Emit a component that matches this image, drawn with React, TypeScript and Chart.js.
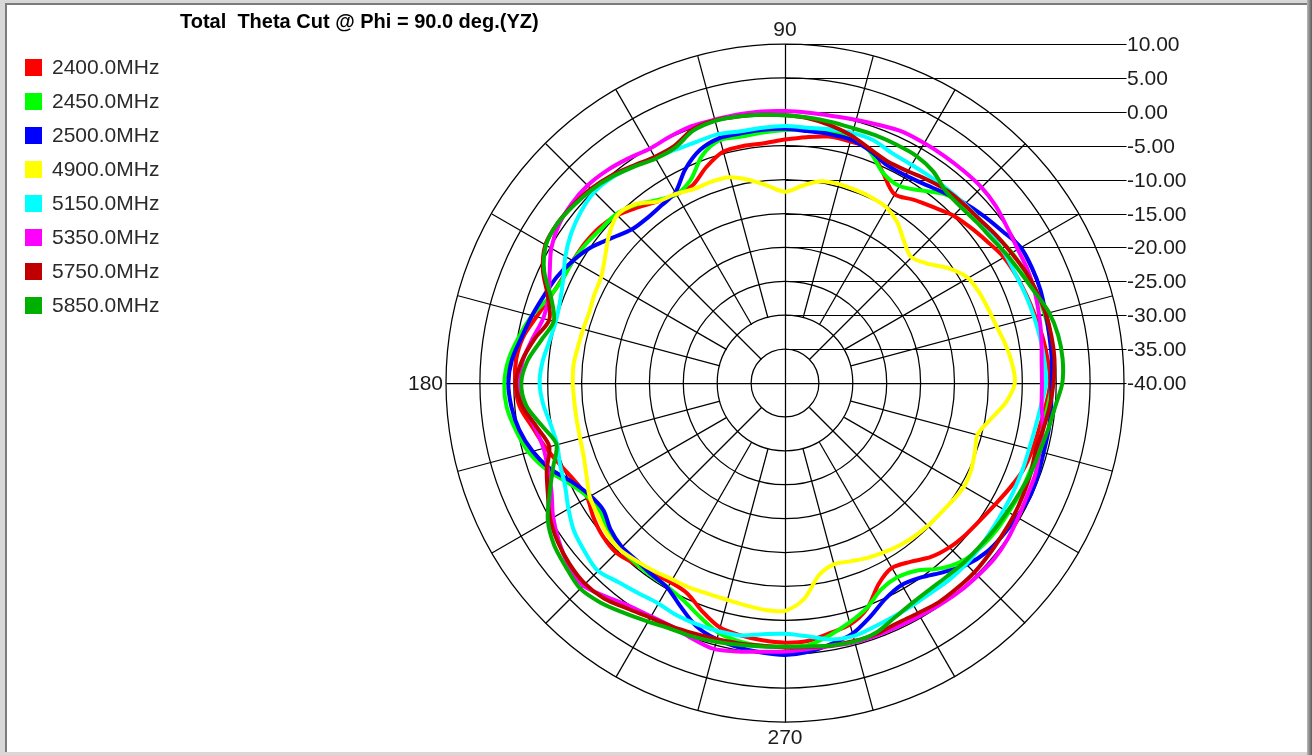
import React, { useEffect, useRef } from "react";
import { Chart, registerables } from "chart.js";

Chart.register(...registerables);

// Polar angle of each sample, degrees counter-clockwise from the +x direction
const THETA_DEG = [
  0, 5, 10, 15, 20, 25, 30, 35, 40, 45, 50, 55, 60, 65, 70, 75, 80, 85,
  90, 95, 100, 105, 110, 115, 120, 125, 130, 135, 140, 145, 150, 155, 160, 165, 170, 175,
  180, 185, 190, 195, 200, 205, 210, 215, 220, 225, 230, 235, 240, 245, 250, 255, 260, 265,
  270, 275, 280, 285, 290, 295, 300, 305, 310, 315, 320, 325, 330, 335, 340, 345, 350, 355,
];

const SERIES_NAMES = [
  "2400.0MHz", "2450.0MHz", "2500.0MHz", "4900.0MHz",
  "5150.0MHz", "5350.0MHz", "5750.0MHz", "5850.0MHz",
];

const SERIES_COLORS = [
  "#ff0000", "#00ff00", "#0000ff", "#ffff00",
  "#00ffff", "#ff00ff", "#c00000", "#00b000",
];

// Total gain (dB) for each frequency, one value per THETA_DEG entry
const GAIN_2400 = [
  -0.9, -1.1, -1.4, -1.8, -2.1, -2.4, -2.8, -3.6, -4.3, -5.0, -6.1, -7.0, -7.8, -5.8, -3.3, -3.1, -3.1, -3.6,
  -4.1, -4.5, -4.5, -4.7, -6.1, -7.8, -7.9, -7.3, -6.2, -5.0, -4.3, -4.0, -3.9, -3.7, -3.1, -2.1, -0.8, -0.2,
  -0.2, -0.7, -2.2, -3.4, -4.7, -5.8, -6.3, -5.5, -4.9, -4.7, -5.3, -5.8, -6.1, -5.8, -4.2, -2.7, -2.2, -1.9,
  -1.7, -1.8, -2.5, -3.1, -4.6, -7.3, -8.5, -7.8, -6.5, -5.7, -5.2, -4.8, -4.2, -3.4, -2.6, -2.2, -1.9, -1.4,
];

const GAIN_2450 = [
  -0.5, -0.2, -0.3, -0.4, -0.6, -1.0, -1.4, -2.1, -2.5, -2.8, -3.6, -5.3, -6.4, -5.8, -3.6, -2.5, -2.4, -2.5,
  -2.7, -2.9, -3.1, -2.9, -4.3, -7.0, -7.9, -7.1, -5.7, -4.8, -4.6, -4.2, -3.9, -3.8, -3.0, -1.4, -0.2, 0.9,
  1.4, 1.2, 0.3, -0.8, -2.6, -4.9, -6.4, -6.8, -5.9, -5.5, -5.5, -5.4, -5.3, -4.6, -3.3, -1.9, -1.3, -1.1,
  -1.1, -1.2, -2.2, -3.4, -4.7, -6.4, -6.9, -6.2, -4.3, -2.9, -2.3, -2.0, -1.9, -1.7, -1.6, -1.4, -1.4, -1.1,
];

const GAIN_2500 = [
  -0.7, -0.5, -0.4, -0.2, 0.1, 0.2, 0.1, -0.9, -1.7, -2.5, -3.4, -4.2, -4.6, -4.5, -3.5, -2.8, -2.7, -2.7,
  -2.5, -2.5, -2.6, -2.6, -3.4, -5.2, -7.6, -8.1, -8.3, -8.0, -6.7, -5.1, -3.9, -2.9, -2.2, -1.4, -0.6, 0.4,
  0.8, 0.5, -0.2, -1.4, -3.1, -5.4, -6.8, -7.3, -6.4, -5.9, -5.9, -5.6, -5.2, -3.6, -1.8, -0.9, -0.4, -0.1,
  0.1, -0.2, -0.9, -1.7, -3.3, -4.9, -5.6, -5.0, -3.6, -2.1, -1.2, -0.8, -0.5, -0.2, -0.3, -0.5, -0.5, -0.6,
];

const GAIN_4900 = [
  -6.1, -6.4, -7.0, -7.7, -8.1, -8.4, -8.9, -10.5, -12.6, -13.7, -12.7, -11.1, -10.1, -9.8, -9.7, -9.6, -9.8, -10.8,
  -11.8, -10.8, -9.6, -8.6, -8.4, -8.4, -7.8, -7.3, -5.6, -5.0, -6.1, -7.6, -8.7, -9.0, -9.3, -9.2, -9.0, -8.7,
  -8.7, -8.8, -8.8, -8.7, -8.4, -7.7, -6.7, -6.2, -5.6, -5.4, -5.8, -6.2, -6.6, -6.7, -6.9, -6.9, -6.7, -6.4,
  -6.4, -8.0, -11.2, -12.3, -12.0, -11.5, -11.1, -10.7, -10.4, -10.2, -10.1, -9.8, -9.5, -9.7, -10.2, -10.6, -9.2, -7.3,
];

const GAIN_5150 = [
  -1.5, -1.6, -1.8, -2.0, -2.2, -2.4, -2.4, -2.5, -2.5, -2.6, -2.7, -2.8, -2.8, -2.6, -1.9, -1.8, -2.0, -2.2,
  -2.1, -2.2, -2.3, -2.0, -2.1, -2.0, -1.6, -1.0, -0.4, -0.2, -0.7, -1.5, -2.6, -3.9, -4.7, -5.0, -4.7, -4.1,
  -3.8, -4.2, -4.9, -5.2, -4.7, -4.2, -3.1, -2.0, -1.4, -0.9, -1.7, -2.2, -2.5, -2.2, -2.1, -2.1, -2.2, -2.8,
  -3.0, -2.5, -1.6, -1.3, -1.7, -2.0, -2.2, -2.3, -2.2, -2.2, -2.4, -2.6, -2.7, -2.7, -2.7, -2.7, -2.5, -2.1,
];

const GAIN_5350 = [
  -2.1, -2.0, -1.6, -1.2, -0.8, -0.5, -0.4, 0.0, 0.6, 0.9, 0.9, 0.9, 0.9, 0.9, 0.5, 0.2, 0.0, 0.0,
  0.1, 0.2, 0.2, 0.2, 0.3, 0.1, -0.1, 0.4, 0.9, 1.2, 1.1, 0.7, -0.2, -1.7, -2.9, -3.1, -2.2, -1.2,
  -0.8, -1.4, -2.5, -3.1, -2.8, -2.0, -0.5, 0.7, 1.7, 2.2, 1.1, 0.1, -0.3, -0.4, 0.1, 0.6, 0.2, -0.2,
  -0.4, -0.6, -0.6, -0.4, -0.4, -0.4, -0.3, -0.1, 0.1, 0.2, 0.3, 0.1, -0.3, -0.6, -0.7, -1.1, -1.4, -2.0,
];

const GAIN_5750 = [
  -0.4, -0.1, -0.1, -0.2, -0.5, -0.9, -1.5, -2.0, -2.5, -2.7, -2.9, -3.4, -3.9, -4.0, -3.3, -2.2, -1.4, -0.8,
  -0.5, -0.3, -0.1, 0.1, -0.2, -1.4, -1.5, -0.9, -0.1, 0.5, 0.8, 1.0, 0.8, -0.6, -2.8, -4.0, -2.5, -1.1,
  -0.3, -1.1, -2.8, -4.0, -2.6, -1.4, 0.0, 0.9, 1.5, 1.8, 1.5, 0.6, -0.1, -0.4, -0.7, -0.9, -1.0, -1.1,
  -1.0, -0.9, -0.7, -0.6, -0.6, -0.9, -0.8, -0.5, -0.5, -0.5, -0.7, -0.9, -1.0, -1.2, -1.4, -1.7, -1.3, -0.8,
];

const GAIN_5850 = [
  0.9, 1.1, 0.9, 0.3, -0.8, -1.6, -2.2, -2.8, -3.1, -3.3, -3.1, -1.9, -1.3, -1.2, -1.1, -1.1, -0.9, -0.7,
  -0.5, -0.3, -0.1, 0.0, -0.4, -1.7, -1.8, -1.1, -0.3, 0.3, 0.7, 1.0, 0.7, -0.8, -3.3, -4.7, -3.5, -1.9,
  -1.1, -1.7, -3.6, -5.1, -3.6, -1.7, 0.4, 1.6, 2.2, 2.8, 2.3, 1.4, 0.6, 0.0, -0.2, -0.5, -0.8, -1.0,
  -1.1, -1.0, -0.7, -0.5, -0.8, -1.8, -2.5, -2.8, -2.8, -2.6, -2.5, -2.3, -2.1, -1.8, -1.4, -1.1, -0.6, 0.0,
];

const SERIES_VALUES = [
  GAIN_2400, GAIN_2450, GAIN_2500, GAIN_4900,
  GAIN_5150, GAIN_5350, GAIN_5750, GAIN_5850,
];

// Radial axis (dB) and angular grid
const R_MIN = -40;
const R_MAX = 10;
const R_STEP = 5;
const SPOKE_STEP_DEG = 15;
const AXIS_ANGLE_LABELS = [90, 180, 270];

const TITLE = "Total  Theta Cut @ Phi = 90.0 deg.(YZ)";
const FONT_FAMILY = '"Liberation Sans", Arial, sans-serif';
const GRID_WIDTH = 1.25;

// Radar categories run clockwise from the top, so order the angles 90, 85, ... 0, 355, ... 95
const clockwiseKey = (deg: number) => (450 - deg) % 360;
const CATEGORY_ANGLES = [...THETA_DEG].sort((a, b) => clockwiseKey(a) - clockwiseKey(b));
const seriesInCategoryOrder = (values: number[]) =>
  CATEGORY_ANGLES.map((deg) => values[THETA_DEG.indexOf(deg)]);

// Spokes, right-hand leader lines with the dB tick labels, and the 90/180/270 labels
const polarDecorations = {
  id: "polarDecorations",
  beforeDatasetsDraw(chart: any) {
    const s = chart.scales.r;
    const ctx: CanvasRenderingContext2D = chart.ctx;
    const labels = chart.data.labels as number[];
    ctx.save();
    ctx.translate(0.5, 0.5);
    ctx.strokeStyle = "#000";
    ctx.lineWidth = GRID_WIDTH;
    for (let a = 0; a < 360; a += SPOKE_STEP_DEG) {
      const idx = labels.indexOf(a);
      let inner: number;
      if (a % 90 === 0) inner = 0;
      else if (a % 45 === 0) inner = s.getDistanceFromCenterForValue(R_MIN + R_STEP);
      else inner = s.getDistanceFromCenterForValue(R_MIN + 2 * R_STEP);
      const p0 = s.getPointPosition(idx, inner);
      const p1 = s.getPointPosition(idx, s.drawingArea);
      ctx.beginPath();
      ctx.moveTo(p0.x, p0.y);
      ctx.lineTo(p1.x, p1.y);
      ctx.stroke();
    }
    ctx.lineWidth = 1;
    const xEnd = s.xCenter + s.drawingArea + 2;
    for (let v = R_MAX; v >= R_MIN; v -= R_STEP) {
      const y = Math.round(s.yCenter - s.getDistanceFromCenterForValue(v));
      ctx.beginPath();
      ctx.moveTo(s.xCenter, y);
      ctx.lineTo(xEnd, y);
      ctx.stroke();
    }
    ctx.restore();
  },
  afterDraw(chart: any) {
    const s = chart.scales.r;
    const ctx: CanvasRenderingContext2D = chart.ctx;
    const labels = chart.data.labels as number[];
    ctx.save();
    ctx.font = `21px ${FONT_FAMILY}`;
    ctx.fillStyle = "#1c1c1c";
    ctx.textBaseline = "middle";
    ctx.textAlign = "left";
    const xEnd = s.xCenter + s.drawingArea + 2;
    for (let v = R_MAX; v >= R_MIN; v -= R_STEP) {
      const y = Math.round(s.yCenter - s.getDistanceFromCenterForValue(v));
      ctx.fillText(v.toFixed(2), xEnd + 1, y + 1);
    }
    AXIS_ANGLE_LABELS.forEach((deg) => {
      const idx = labels.indexOf(deg);
      if (deg === 180) {
        const p = s.getPointPosition(idx, s.drawingArea + 3);
        ctx.textAlign = "right";
        ctx.fillText(String(deg), p.x, p.y + 1);
      } else {
        const p = s.getPointPosition(idx, s.drawingArea + 15);
        ctx.textAlign = "center";
        ctx.fillText(String(deg), p.x, p.y + 1);
      }
    });
    ctx.restore();
  },
};

function PolarPattern() {
  const canvasRef = useRef<HTMLCanvasElement | null>(null);

  useEffect(() => {
    const canvas = canvasRef.current;
    if (!canvas) return;
    const chart = new Chart(canvas, {
      type: "radar",
      data: {
        labels: CATEGORY_ANGLES,
        datasets: SERIES_NAMES.map((name, i) => ({
          label: name,
          data: seriesInCategoryOrder(SERIES_VALUES[i]),
          borderColor: SERIES_COLORS[i],
          backgroundColor: SERIES_COLORS[i],
          borderWidth: 4,
          fill: false,
          tension: 0.3,
          pointRadius: 0,
          pointHoverRadius: 0,
          order: SERIES_NAMES.length - 1 - i,
        })),
      },
      options: {
        animation: false,
        responsive: false,
        maintainAspectRatio: false,
        devicePixelRatio: 1,
        layout: { padding: { left: 446, right: 188, top: 44, bottom: 33 } },
        plugins: {
          legend: { display: false },
          title: { display: false },
          tooltip: { enabled: false },
        },
        elements: { line: { borderJoinStyle: "round", borderCapStyle: "round" } },
        scales: {
          r: {
            min: R_MIN,
            max: R_MAX,
            ticks: { stepSize: R_STEP, display: false },
            grid: { circular: true, color: "#000", lineWidth: GRID_WIDTH },
            angleLines: { display: false },
            pointLabels: { display: false },
          },
        },
      },
      plugins: [polarDecorations],
    });
    return () => chart.destroy();
  }, []);

  return (
    <canvas
      ref={canvasRef}
      width={1312}
      height={755}
      style={{ position: "absolute", left: 0, top: 0, width: 1312, height: 755 }}
    />
  );
}

export default function App() {
  return (
    <div
      style={{
        position: "fixed",
        left: 0,
        top: 0,
        width: 1312,
        height: 755,
        background: "#d8d8d8",
        overflow: "hidden",
        fontFamily: FONT_FAMILY,
      }}
    >
      <div
        style={{
          position: "absolute",
          left: 5,
          top: 3,
          width: 1302,
          height: 749,
          background: "#ffffff",
          borderLeft: "2px solid #7c7c7c",
          borderTop: "2px solid #7c7c7c",
          boxSizing: "border-box",
        }}
      />
      <div
        style={{
          position: "absolute",
          left: 1307,
          top: 0,
          width: 5,
          height: 755,
          background: "linear-gradient(to right, #b8b8b8, #5a5a5a)",
        }}
      />
      <PolarPattern />
      <div
        style={{
          position: "absolute",
          left: 180,
          top: 11,
          fontSize: 20,
          lineHeight: "20px",
          fontWeight: "bold",
          color: "#000",
          whiteSpace: "pre",
        }}
      >
        {TITLE}
      </div>
      {SERIES_NAMES.map((name, i) => (
        <div
          key={name}
          style={{
            position: "absolute",
            left: 25,
            top: 55 + i * 34,
            height: 24,
            display: "flex",
            alignItems: "center",
          }}
        >
          <div style={{ width: 17, height: 17, background: SERIES_COLORS[i] }} />
          <div style={{ marginLeft: 10, fontSize: 21, color: "#2a2a2a", lineHeight: "24px" }}>{name}</div>
        </div>
      ))}
    </div>
  );
}
